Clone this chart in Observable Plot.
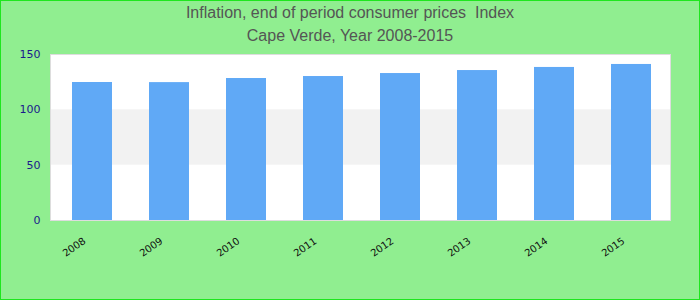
<!DOCTYPE html>
<html>
<head>
<meta charset="utf-8">
<script src="https://cdn.jsdelivr.net/npm/d3@7"></script>
<script src="https://cdn.jsdelivr.net/npm/@observablehq/plot@0.6"></script>
<style>
  html, body { margin: 0; padding: 0; background: #90ee90; }
  #wrap { position: relative; width: 700px; height: 300px; background: #90ee90; overflow: hidden; }
  #border { position: absolute; left: 0; top: 0; width: 700px; height: 300px; box-sizing: border-box; border: 1px solid #1ee61e; pointer-events: none; }
  .title { position: absolute; left: 0; width: 700px; text-align: center; font-family: "Liberation Sans", Arial, sans-serif; font-size: 16px; color: #555; white-space: pre; line-height: 20px; }
  #chart { position: absolute; left: 0; top: 40px; }
</style>
</head>
<body>
<div id="wrap">
  <div class="title" style="top:3px">Inflation, end of period consumer prices  Index</div>
  <div class="title" style="top:26px">Cape Verde, Year 2008-2015</div>
  <div id="chart"></div>
  <div id="border"></div>
</div>
<script>
const years = ["2008", "2009", "2010", "2011", "2012", "2013", "2014", "2015"];
const values = [124.7, 124.6, 128.3, 130.1, 132.8, 135.5, 138.3, 141.0];
const yTicks = [0, 50, 100, 150];
const bandLow = 50, bandHigh = 100;

const data = years.map((y, i) => ({year: y, value: values[i]}));

const chart = Plot.plot({
  width: 700,
  height: 260,
  marginTop: 14,
  marginBottom: 80,
  marginLeft: 50,
  marginRight: 30,
  style: {background: "transparent", fontFamily: "DejaVu Sans, sans-serif"},
  x: {domain: years, range: [51.5, 671.5], paddingInner: 0.484, paddingOuter: 0.24, axis: null},
  y: {domain: [0, 150], axis: null},
  marks: [
    Plot.frame({fill: "white", stroke: null}),
    Plot.rect([{y1: bandLow, y2: bandHigh}], {y1: "y1", y2: "y2", fill: "#f2f2f2"}),
    Plot.barY(data, {x: "year", y: "value", fill: "#60a9f6"}),
    Plot.frame({stroke: "#dddddd", strokeWidth: 1}),
    Plot.axisY({ticks: yTicks, tickSize: 0, tickPadding: 10, fontSize: 11, fill: "#1a1a8c", anchor: "left"}),
    Plot.text(years, {x: d => d, frameAnchor: "bottom", dy: 22, dx: -6, rotate: -35, textAnchor: "end", fontSize: 10, fill: "#111"})
  ]
});
document.getElementById("chart").appendChild(chart);
</script>
</body>
</html>
